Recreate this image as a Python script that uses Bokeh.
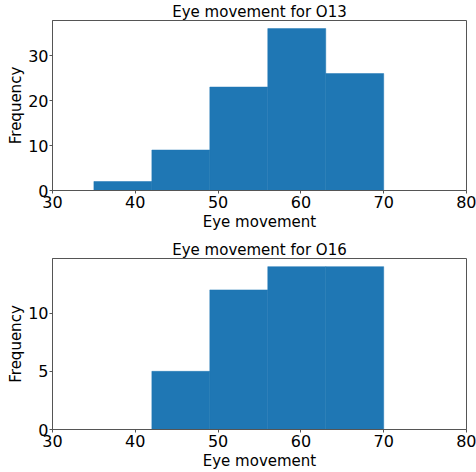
from bokeh.plotting import figure
from bokeh.layouts import column
from bokeh.models import FixedTicker, Range1d
from bokeh.embed import file_html
from bokeh.resources import INLINE

# Data
edges_o13 = [35, 42, 49, 56, 63, 70]
counts_o13 = [2, 9, 23, 36, 26]
edges_o16 = [42, 49, 56, 63, 70]
counts_o16 = [5, 12, 14, 14]
x_ticks = [30, 40, 50, 60, 70, 80]
y_ticks_o13 = [0, 10, 20, 30]
y_ticks_o16 = [0, 5, 10]

FONT = "DejaVu Sans"
BLUE = "#1f77b4"


def make_hist(title, edges, counts, yticks, top_border, bottom_border):
    ymax = max(counts) * 1.05
    p = figure(width=476, height=top_border + 171 + bottom_border,
               output_backend="svg", toolbar_location=None,
               x_range=Range1d(30, 80), y_range=Range1d(0, ymax),
               min_border_left=52, min_border_right=10,
               min_border_top=top_border, min_border_bottom=bottom_border)
    p.quad(left=edges[:-1], right=edges[1:], bottom=0, top=counts,
           fill_color=BLUE, line_color=BLUE, line_width=0.5)
    p.title.text = title
    p.title.align = "center"
    p.title.text_font = FONT
    p.title.text_font_size = "15px"
    p.title.text_font_style = "normal"
    p.title.text_color = "black"
    p.title.offset = 0
    p.title.standoff = 0
    p.xgrid.visible = False
    p.ygrid.visible = False
    p.outline_line_color = "#555555"
    p.outline_line_width = 1
    p.background_fill_color = "white"
    p.border_fill_color = "white"
    p.xaxis.ticker = FixedTicker(ticks=x_ticks)
    p.yaxis.ticker = FixedTicker(ticks=yticks)
    p.xaxis.axis_label = "Eye movement"
    p.yaxis.axis_label = "Frequency"
    for ax in (p.xaxis, p.yaxis):
        ax.axis_line_color = "#555555"
        ax.major_tick_line_color = "#555555"
        ax.major_tick_out = 3
        ax.major_tick_in = 0
        ax.minor_tick_line_color = None
        ax.major_label_text_font = FONT
        ax.major_label_text_font_size = "16px"
        ax.major_label_text_color = "black"
        ax.axis_label_text_font = FONT
        ax.axis_label_text_font_size = "15px"
        ax.axis_label_text_font_style = "normal"
        ax.axis_label_text_color = "black"
        ax.major_label_standoff = 2
        ax.axis_label_standoff = 2
    p.yaxis.axis_label_standoff = 0
    p.yaxis.major_label_standoff = 1
    return p


p1 = make_hist("Eye movement for O13", edges_o13, counts_o13, y_ticks_o13, 19, 46)
p2 = make_hist("Eye movement for O16", edges_o16, counts_o16, y_ticks_o16, 22, 43)

layout = column(p1, p2, spacing=0)
open("out.html", "w").write(file_html(layout, INLINE))
